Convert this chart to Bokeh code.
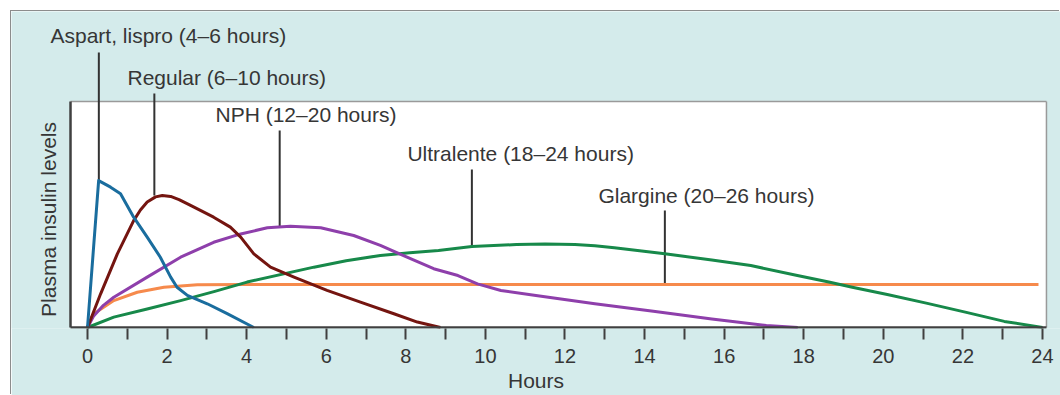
from bokeh.plotting import figure
from bokeh.models import Range1d, FixedTicker
from bokeh.core.properties import value
from bokeh.embed import file_html
from bokeh.resources import INLINE

# ---------------- data (hours, relative plasma insulin level) ----------------
aspart_h = [0, 0.28, 0.58, 0.83, 1.16, 1.50, 1.83, 2.09, 2.25, 2.51, 3.01, 3.51, 4.18]
aspart_v = [0, 65.0, 62.1, 59.2, 48.8, 40.0, 31.1, 22.3, 17.8, 14.2, 10.5, 6.1, 0]

regular_h = [0, 0.33, 0.75, 1.16, 1.33, 1.50, 1.71, 1.88, 2.09, 2.30, 2.59, 3.17, 3.59, 3.85,
             4.18, 4.60, 5.19, 6.02, 6.86, 7.70, 8.29, 8.87]
regular_v = [0, 14.9, 32.6, 47.3, 52.0, 55.5, 57.8, 58.4, 58.0, 56.6, 54.0, 48.8, 44.4, 40.0,
             32.6, 26.7, 22.3, 16.4, 11.2, 6.1, 2.4, 0]

nph_h = [0, 0.15, 0.40, 0.66, 1.50, 2.34, 3.17, 3.85, 4.52, 5.10, 5.86, 6.69, 7.36, 8.03, 8.70,
         9.31, 9.80, 10.39, 11.27, 12.75, 14.22, 15.69, 17.06, 17.85]
nph_v = [0, 5.0, 9.8, 13.4, 22.3, 31.1, 37.7, 41.4, 44.1, 44.8, 44.1, 40.7, 36.3, 31.1, 26.0,
         23.0, 19.3, 16.4, 14.2, 10.5, 7.2, 3.8, 0.9, 0]

ultra_h = [0, 0.66, 1.50, 2.34, 3.20, 4.01, 5.69, 6.50, 7.36, 8.10, 8.82, 9.66, 10.78, 11.50,
           12.25, 12.75, 13.24, 14.51, 15.69, 16.67, 17.84, 18.63, 19.22, 20.10, 21.08,
           22.06, 23.04, 24.0]
ultra_v = [0, 4.6, 8.2, 11.9, 16.0, 20.1, 26.7, 29.5, 31.9, 33.1, 34.1, 35.8, 36.7, 37.0,
           36.7, 36.2, 35.3, 32.6, 29.9, 27.4, 23.0, 20.1, 17.8, 14.6, 10.8,
           6.8, 2.7, 0]

glargine_h = [0, 0.16, 0.66, 1.25, 1.92, 2.76, 4.0, 23.9]
glargine_v = [0, 6.1, 11.9, 15.6, 17.8, 18.9, 19.0, 19.0]

labels = ["Aspart, lispro (4\u20136 hours)", "Regular (6\u201310 hours)",
          "NPH (12\u201320 hours)", "Ultralente (18\u201324 hours)",
          "Glargine (20\u201326 hours)"]
label_x = [-0.93, 1.005, 3.217, 8.04, 12.84]
label_y = [129.4, 110.7, 94.2, 77.0, 58.2]
leader_x = [0.285, 1.68, 4.83, 9.66, 14.51]
leader_top = [121.7, 103.5, 87.2, 69.9, 51.8]
leader_bottom = [65.0, 58.4, 44.8, 35.8, 18.9]

hour_ticks = list(range(0, 25))
x_label = "Hours"
y_label = "Plasma insulin levels"

# ---------------- layout / style ----------------
X_START, X_END = -1.910, 24.453
Y_START, Y_END = -0.4425, 139.82
BOX_L, BOX_R, BOX_B, BOX_T = -0.427, 24.10, 0, 100

TEAL = "#d4ebeb"
TXT = "#363636"
AX = "#404040"
FONT = "Liberation Sans"

p = figure(width=1049, height=384, margin=(11, 0, 0, 11),
           x_range=Range1d(X_START, X_END), y_range=Range1d(Y_START, Y_END),
           output_backend="svg", toolbar_location=None, y_axis_location=None,
           min_border_left=0, min_border_right=0, min_border_top=0, min_border_bottom=67,
           background_fill_color=TEAL, border_fill_color=TEAL, outline_line_color=None,
           styles={"box-shadow": "-1px -1px 0 0 #8c8c8c"})
p.grid.visible = False

xa = p.xaxis[0]
xa.ticker = FixedTicker(ticks=hour_ticks, minor_ticks=[])
xa.major_label_overrides = {t: ("" if t % 2 else str(t)) for t in hour_ticks}
xa.axis_line_color = None
xa.major_tick_out = 11
xa.major_tick_in = 0
xa.major_tick_line_color = AX
xa.major_tick_line_width = 2
xa.minor_tick_line_color = None
xa.major_label_text_font = FONT
xa.major_label_text_font_size = "20px"
xa.major_label_text_color = TXT
xa.major_label_standoff = 9
xa.axis_label = x_label
xa.axis_label_text_font = FONT
xa.axis_label_text_font_size = "21px"
xa.axis_label_text_font_style = "normal"
xa.axis_label_text_color = TXT
xa.axis_label_standoff = 3

# white plot area
p.quad(left=[BOX_L], right=[BOX_R], bottom=[BOX_B], top=[BOX_T],
       fill_color="white", line_color=None)
p.segment(x0=[BOX_L, BOX_R], y0=[BOX_T, BOX_B], x1=[BOX_R, BOX_R], y1=[BOX_T, BOX_T],
          line_color="#9a9a9a", line_width=1.5)

# leader lines
p.segment(x0=leader_x, y0=leader_top, x1=leader_x, y1=leader_bottom,
          line_color="#333333", line_width=2)

# curves
LW = 3
p.line(glargine_h, glargine_v, line_color="#f68a4c", line_width=LW, line_join="round")
p.line(ultra_h, ultra_v, line_color="#17894a", line_width=LW, line_join="round")
p.line(nph_h, nph_v, line_color="#8e3fab", line_width=LW, line_join="round")
p.line(regular_h, regular_v, line_color="#741510", line_width=LW, line_join="round")
p.line(aspart_h, aspart_v, line_color="#1a6d9e", line_width=LW, line_join="round")

# axis lines (left and bottom)
p.segment(x0=[BOX_L, BOX_L], y0=[BOX_B, BOX_B], x1=[BOX_L, BOX_R], y1=[BOX_T, BOX_B],
          line_color=AX, line_width=2.5)

# annotation texts
p.text(x=label_x, y=label_y, text=labels, text_font=value(FONT), text_font_size="21px",
       text_color=TXT, text_align="left", text_baseline="middle")

# y axis label
p.text(x=[-0.98], y=[47.8], text=[y_label], angle=1.5707963, text_font=value(FONT),
       text_font_size="21px", text_color=TXT, text_align="center", text_baseline="middle")

open("out.html", "w").write(file_html(p, INLINE))
